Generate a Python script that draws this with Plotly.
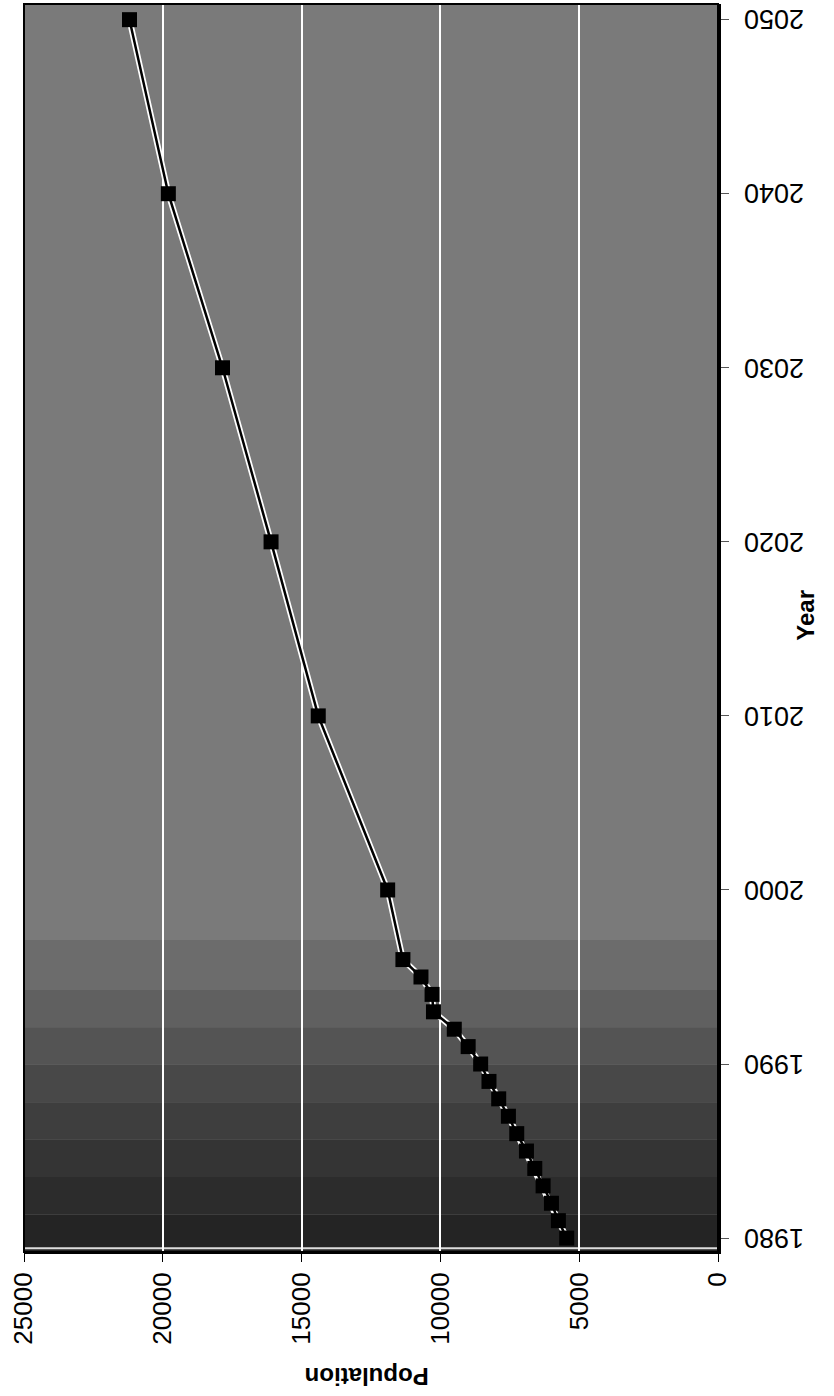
import plotly.graph_objects as go

# Data read from the (rotated) reference chart
years = [1980, 1981, 1982, 1983, 1984, 1985, 1986, 1987, 1988, 1989, 1990,
         1991, 1992, 1993, 1994, 1995, 1996, 2000, 2010, 2020, 2030, 2040, 2050]
population = [5450, 5750, 6000, 6300, 6600, 6900, 7250, 7550, 7900, 8250, 8550,
              9000, 9500, 10250, 10300, 10700, 11350, 11900, 14400, 16100, 17850, 19800, 21200]

pop_ticks = [0, 5000, 10000, 15000, 20000, 25000]
year_ticks = [1980, 1990, 2000, 2010, 2020, 2030, 2040, 2050]

fig = go.Figure()

# white halo under the line
fig.add_trace(go.Scatter(x=population, y=years, mode="lines",
                         line=dict(color="white", width=6), hoverinfo="skip",
                         showlegend=False))
fig.add_trace(go.Scatter(x=population, y=years, mode="lines+markers",
                         line=dict(color="black", width=2.5),
                         marker=dict(symbol="square", size=15, color="black",
                                     line=dict(color="black", width=0)),
                         showlegend=False))

# background shading (darker toward the bottom, like the scan)
shapes = []
bands = [
    (0.00, 0.03, "#242424"), (0.03, 0.06, "#2c2c2c"), (0.06, 0.09, "#343434"),
    (0.09, 0.12, "#3e3e3e"), (0.12, 0.15, "#484848"), (0.15, 0.18, "#545454"),
    (0.18, 0.21, "#606060"), (0.21, 0.25, "#6c6c6c"), (0.25, 1.00, "#7a7a7a"),
]
for y0, y1, c in bands:
    shapes.append(dict(type="rect", xref="paper", yref="paper", x0=0, x1=1,
                       y0=y0, y1=y1, fillcolor=c, line=dict(width=0), layer="below"))
# light line along the bottom inside the plot area, and the frame
shapes.append(dict(type="line", xref="paper", yref="paper", x0=0, x1=1, y0=0.003, y1=0.003,
                   line=dict(color="#dddddd", width=2), layer="below"))
shapes.append(dict(type="rect", xref="paper", yref="paper", x0=0, x1=1, y0=0, y1=1,
                   line=dict(color="black", width=2), layer="above"))

# year tick labels (upside down, as in the scan) placed on the y scale
annotations = []
for yv in year_ticks:
    annotations.append(dict(text=str(yv), textangle=180, xref="paper", yref="y",
                            x=1.0346, y=yv, xanchor="left", yanchor="middle",
                            showarrow=False,
                            font=dict(family="Liberation Sans Narrow, Liberation Sans, Arial",
                                      size=27, color="black")))
annotations += [
    dict(text="<b>Population</b>", textangle=180, xref="paper", yref="paper",
         x=0.494, y=-0.112, showarrow=False,
         font=dict(family="Liberation Sans, Arial", size=24, color="black")),
    dict(text="<b>Year</b>", textangle=-90, xref="paper", yref="paper",
         x=1.148, y=0.51, showarrow=False,
         font=dict(family="Liberation Sans, Arial", size=24, color="black")),
]

fig.update_layout(
    width=834, height=1396,
    margin=dict(l=24, r=116, t=4, b=144),
    paper_bgcolor="white",
    plot_bgcolor="#7a7a7a",
    shapes=shapes,
    annotations=annotations,
    xaxis=dict(
        range=[25000, 0], tickvals=pop_ticks, ticktext=[str(v) for v in pop_ticks],
        tickangle=-90, ticks="outside", ticklen=8, tickcolor="black",
        showgrid=True, gridcolor="white", gridwidth=2,
        zeroline=False, showline=True, linecolor="black", linewidth=2,
        tickfont=dict(family="Liberation Sans, Arial", size=26, color="black"),
    ),
    yaxis=dict(
        side="right", range=[1979.2, 2050.9], tickvals=year_ticks,
        showticklabels=False, ticks="outside", ticklen=8, tickcolor="#555",
        showgrid=False, zeroline=False, showline=True, linecolor="black", linewidth=3,
    ),
)

fig.write_html("out.html")
